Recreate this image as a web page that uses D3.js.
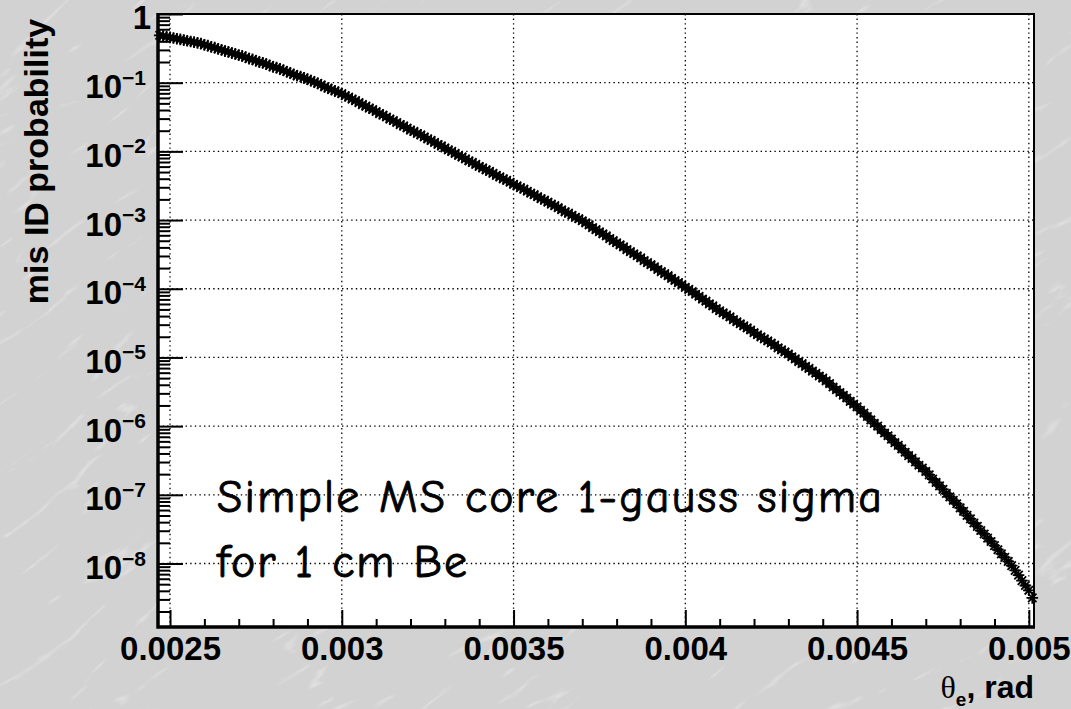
<!DOCTYPE html>
<html>
<head>
<meta charset="utf-8">
<script src="https://d3js.org/d3.v7.min.js"></script>
<style>
  body { margin: 0; background: #d4d4d4; }
  svg { display: block; }
</style>
</head>
<body>
<svg id="main_chart"></svg>
<script>

// histogram binning (rad): centre of the first bin and bin width
let firstBin = 0.00247
let binWidth = 0.00001

// log10(mis ID probability), one value per bin
let log10Prob = [
  -0.31, -0.32, -0.33,
  -0.34, -0.35, -0.36, -0.37, -0.38, -0.39, -0.40, -0.41, -0.42, -0.43,
  -0.45, -0.46, -0.48, -0.49, -0.51, -0.52, -0.54, -0.55, -0.57, -0.58,
  -0.60, -0.61, -0.63, -0.65, -0.66, -0.68, -0.70, -0.71, -0.73, -0.75,
  -0.77, -0.78, -0.80, -0.82, -0.84, -0.86, -0.88, -0.90, -0.91, -0.93,
  -0.95, -0.97, -0.99, -1.01, -1.03, -1.06, -1.08, -1.10, -1.12, -1.14,
  -1.16, -1.19, -1.21, -1.24, -1.26, -1.29, -1.32, -1.34, -1.37, -1.39,
  -1.42, -1.45, -1.47, -1.50, -1.53, -1.55, -1.58, -1.61, -1.63, -1.66,
  -1.69, -1.71, -1.74, -1.76, -1.79, -1.82, -1.84, -1.87, -1.90, -1.92,
  -1.95, -1.98, -2.00, -2.03, -2.06, -2.08, -2.11, -2.14, -2.16, -2.19,
  -2.22, -2.24, -2.27, -2.29, -2.32, -2.35, -2.37, -2.40, -2.42, -2.45,
  -2.48, -2.50, -2.53, -2.55, -2.58, -2.61, -2.63, -2.66, -2.69, -2.71,
  -2.74, -2.77, -2.79, -2.82, -2.85, -2.88, -2.90, -2.93, -2.96, -2.98,
  -3.01, -3.04, -3.07, -3.11, -3.14, -3.17, -3.20, -3.23, -3.27, -3.30,
  -3.33, -3.36, -3.39, -3.43, -3.46, -3.49, -3.52, -3.55, -3.59, -3.62,
  -3.65, -3.68, -3.72, -3.75, -3.78, -3.81, -3.85, -3.88, -3.91, -3.94,
  -3.98, -4.01, -4.04, -4.08, -4.11, -4.15, -4.18, -4.22, -4.25, -4.29,
  -4.32, -4.35, -4.38, -4.41, -4.45, -4.48, -4.51, -4.54, -4.57, -4.60,
  -4.64, -4.67, -4.70, -4.73, -4.76, -4.79, -4.82, -4.86, -4.89, -4.92,
  -4.95, -4.99, -5.02, -5.06, -5.09, -5.13, -5.16, -5.20, -5.23, -5.27,
  -5.30, -5.34, -5.38, -5.43, -5.47, -5.51, -5.55, -5.59, -5.64, -5.68,
  -5.72, -5.77, -5.81, -5.86, -5.91, -5.96, -6.00, -6.05, -6.10, -6.14,
  -6.19, -6.24, -6.28, -6.33, -6.38, -6.43, -6.47, -6.52, -6.57, -6.61,
  -6.66, -6.71, -6.77, -6.82, -6.87, -6.92, -6.98, -7.03, -7.08, -7.13,
  -7.19, -7.24, -7.30, -7.35, -7.41, -7.46, -7.52, -7.57, -7.63, -7.68,
  -7.74, -7.80, -7.86, -7.91, -7.97, -8.03, -8.10, -8.17, -8.25, -8.32,
  -8.39, -8.50
]

let xTicks = [0.0025, 0.003, 0.0035, 0.004, 0.0045, 0.005]
let xTickLabels = ["0.0025", "0.003", "0.0035", "0.004", "0.0045", "0.005"]
let yExponents = [0, -1, -2, -3, -4, -5, -6, -7, -8]
let noteLines = ["Simple MS core 1-gauss sigma", "for 1 cm Be"]

let boldFont = "'Liberation Sans', Arial, Helvetica, sans-serif"

function getConfig() {
  let width = 1071
  let height = 709
  // the frame of the plot (pixels)
  let frame = { left: 158, top: 14, right: 1034, bottom: 627 }
  let container = d3.select("#main_chart")
    .attr("width", width)
    .attr("height", height)
  return { width, height, frame, container }
}

function getScales(config) {
  let { frame } = config
  let xScale = d3.scaleLinear()
    .domain([0.002465, 0.005015])
    .range([frame.left, frame.right])
  let yScale = d3.scaleLog()
    .domain([1.19e-9, 1])
    .range([frame.bottom, frame.top])
  return { xScale, yScale }
}

function drawBackground(config) {
  let { width, height, frame, container } = config
  let defs = container.append("defs")
  let filter = defs.append("filter").attr("id", "marble")
  filter.append("feTurbulence")
    .attr("type", "turbulence")
    .attr("baseFrequency", "0.006 0.025")
    .attr("numOctaves", 4)
    .attr("seed", 11)
  filter.append("feColorMatrix")
    .attr("type", "matrix")
    .attr("values", "0 0 0 0 1  0 0 0 0 1  0 0 0 0 1  -5 0 0 0 0.7")

  container.append("rect")
    .attr("width", width).attr("height", height)
    .attr("fill", "#d2d2d2")
  container.append("rect")
    .attr("x", -700).attr("y", -700)
    .attr("width", 2500).attr("height", 2200)
    .attr("transform", "rotate(-35 535 354)")
    .attr("filter", "url(#marble)")
    .attr("opacity", 0.5)

  // white plot area
  container.append("rect")
    .attr("x", frame.left).attr("y", frame.top)
    .attr("width", frame.right - frame.left)
    .attr("height", frame.bottom - frame.top)
    .attr("fill", "#fff")
}

function drawGrid(scales, config) {
  let { frame, container } = config
  let { xScale, yScale } = scales
  let grid = container.append("g").attr("class", "grid")
    .attr("stroke", "#000")
    .attr("stroke-width", 1.3)
    .attr("stroke-dasharray", "1.4,3.2")

  grid.selectAll(".vgrid")
    .data(xTicks)
    .join("line")
      .attr("class", "vgrid")
      .attr("x1", d => xScale(d)).attr("x2", d => xScale(d))
      .attr("y1", frame.top).attr("y2", frame.bottom)

  grid.selectAll(".hgrid")
    .data(yExponents)
    .join("line")
      .attr("class", "hgrid")
      .attr("x1", frame.left).attr("x2", frame.right)
      .attr("y1", d => yScale(Math.pow(10, d)))
      .attr("y2", d => yScale(Math.pow(10, d)))
}

function drawMarkers(points, scales, config) {
  let { container } = config
  let { xScale, yScale } = scales
  let r = 5.8
  let d = 4.2
  // ROOT marker style 3: a "+" and an "x" on top of each other
  let star = `M${-r},0H${r}M0,${-r}V${r}M${-d},${-d}L${d},${d}M${-d},${d}L${d},${-d}`

  container.append("g").attr("class", "markers")
    .selectAll("path")
    .data(points)
    .join("path")
      .attr("transform", p => `translate(${xScale(p.theta)},${yScale(p.prob)})`)
      .attr("d", star)
      .attr("fill", "none")
      .attr("stroke", "#000")
      .attr("stroke-width", 1.8)
}

function drawAxes(scales, config) {
  let { frame, container } = config
  let { xScale, yScale } = scales

  // minor ticks
  let xMinor = d3.range(25, 51).map(k => k / 10000).filter(v => !xTicks.some(t => Math.abs(t - v) < 1e-9))
  let yMinor = []
  for (let e = -9; e < 0; e++) {
    for (let k = 2; k <= 9; k++) {
      let v = k * Math.pow(10, e)
      if (v >= yScale.domain()[0]) yMinor.push(v)
    }
  }

  let bottom = container.append("g")
    .attr("class", "bottomaxis")
    .attr("transform", `translate(0,${frame.bottom})`)
  bottom.append("g")
    .call(d3.axisBottom(xScale).tickValues(xMinor).tickSize(-8).tickFormat(""))
  bottom.append("g")
    .call(d3.axisBottom(xScale)
      .tickValues(xTicks)
      .tickSize(-17)
      .tickPadding(10)
      .tickFormat((d, i) => xTickLabels[i]))

  let left = container.append("g")
    .attr("class", "leftaxis")
    .attr("transform", `translate(${frame.left},0)`)
  left.append("g")
    .call(d3.axisLeft(yScale).tickValues(yMinor).tickSize(-12).tickFormat(""))
  left.append("g")
    .call(d3.axisLeft(yScale)
      .tickValues(yExponents.map(e => Math.pow(10, e)))
      .tickSize(-25)
      .tickFormat(""))

  container.selectAll(".bottomaxis .domain, .leftaxis .domain").remove()
  container.selectAll(".bottomaxis line, .leftaxis line")
    .attr("stroke", "#000")
    .attr("stroke-width", 2)
  container.selectAll(".bottomaxis text")
    .attr("font-family", boldFont)
    .attr("font-weight", "bold")
    .attr("font-size", 33)
    .attr("fill", "#000")

  // frame: thin top / right, thick left / bottom
  let f = container.append("g").attr("class", "frame").attr("stroke", "#000").attr("fill", "none")
  f.append("path")
    .attr("d", `M${frame.left},${frame.top}H${frame.right}V${frame.bottom}`)
    .attr("stroke-width", 2)
  f.append("path")
    .attr("d", `M${frame.left},${frame.top - 1}V${frame.bottom}H${frame.right + 1}`)
    .attr("stroke-width", 3.5)

  // y labels: 1, 10^-1 ... 10^-8
  let labels = container.append("g").attr("class", "ylabels")
    .attr("font-family", boldFont)
    .attr("font-weight", "bold")
    .attr("fill", "#000")
    .attr("text-anchor", "end")
  labels.selectAll("text")
    .data(yExponents)
    .join("text")
      .attr("x", e => e === 0 ? 151 : 146)
      .attr("y", e => yScale(Math.pow(10, e)) + (e === 0 ? 14.5 : 15.5))
      .attr("font-size", 33)
      .each(function(e) {
        let t = d3.select(this)
        if (e === 0) {
          t.text("1")
        } else {
          t.append("tspan").text("10")
          t.append("tspan")
            .attr("font-size", 21)
            .attr("dy", -13.5)
            .text("\u2212" + (-e))
        }
      })
}

function drawTitles(config) {
  let { container } = config

  container.append("text")
    .attr("transform", "translate(48,161.5) rotate(-90)")
    .attr("text-anchor", "middle")
    .attr("font-family", boldFont)
    .attr("font-weight", "bold")
    .attr("font-size", 34)
    .attr("fill", "#000")
    .text("mis ID probability")

  let xt = container.append("text")
    .attr("x", 1034)
    .attr("y", 698)
    .attr("text-anchor", "end")
    .attr("font-family", boldFont)
    .attr("font-weight", "bold")
    .attr("font-size", 32)
    .attr("fill", "#000")
  xt.append("tspan")
    .attr("font-family", "'Liberation Serif', 'DejaVu Serif', serif")
    .attr("font-weight", "normal")
    .text("\u03b8")
  xt.append("tspan").attr("font-size", 19).attr("dy", 8).text("e")
  xt.append("tspan").attr("dy", -8).text(", rad")

  // annotation written on the plot
  let noteY = [512, 577]
  let noteWidth = [665, 250]
  container.append("g").attr("class", "note")
    .selectAll("text")
    .data(noteLines)
    .join("text")
      .attr("x", 217)
      .attr("y", (d, i) => noteY[i])
      .attr("textLength", (d, i) => noteWidth[i])
      .attr("font-family", "'Comic Sans MS', 'Comic Neue', Lato, sans-serif")
      .attr("font-size", 46)
      .attr("fill", "#000")
      .attr("stroke", "#000")
      .attr("stroke-width", 0.9)
      .text(d => d)
}

function showData() {
  let points = log10Prob.map((v, i) => ({
    theta: firstBin + i * binWidth,
    prob: Math.pow(10, v)
  }))
  let config = getConfig()
  let scales = getScales(config)
  drawBackground(config)
  drawGrid(scales, config)
  drawTitles(config)
  drawMarkers(points, scales, config)
  drawAxes(scales, config)
}

showData()
</script>
</body>
</html>
